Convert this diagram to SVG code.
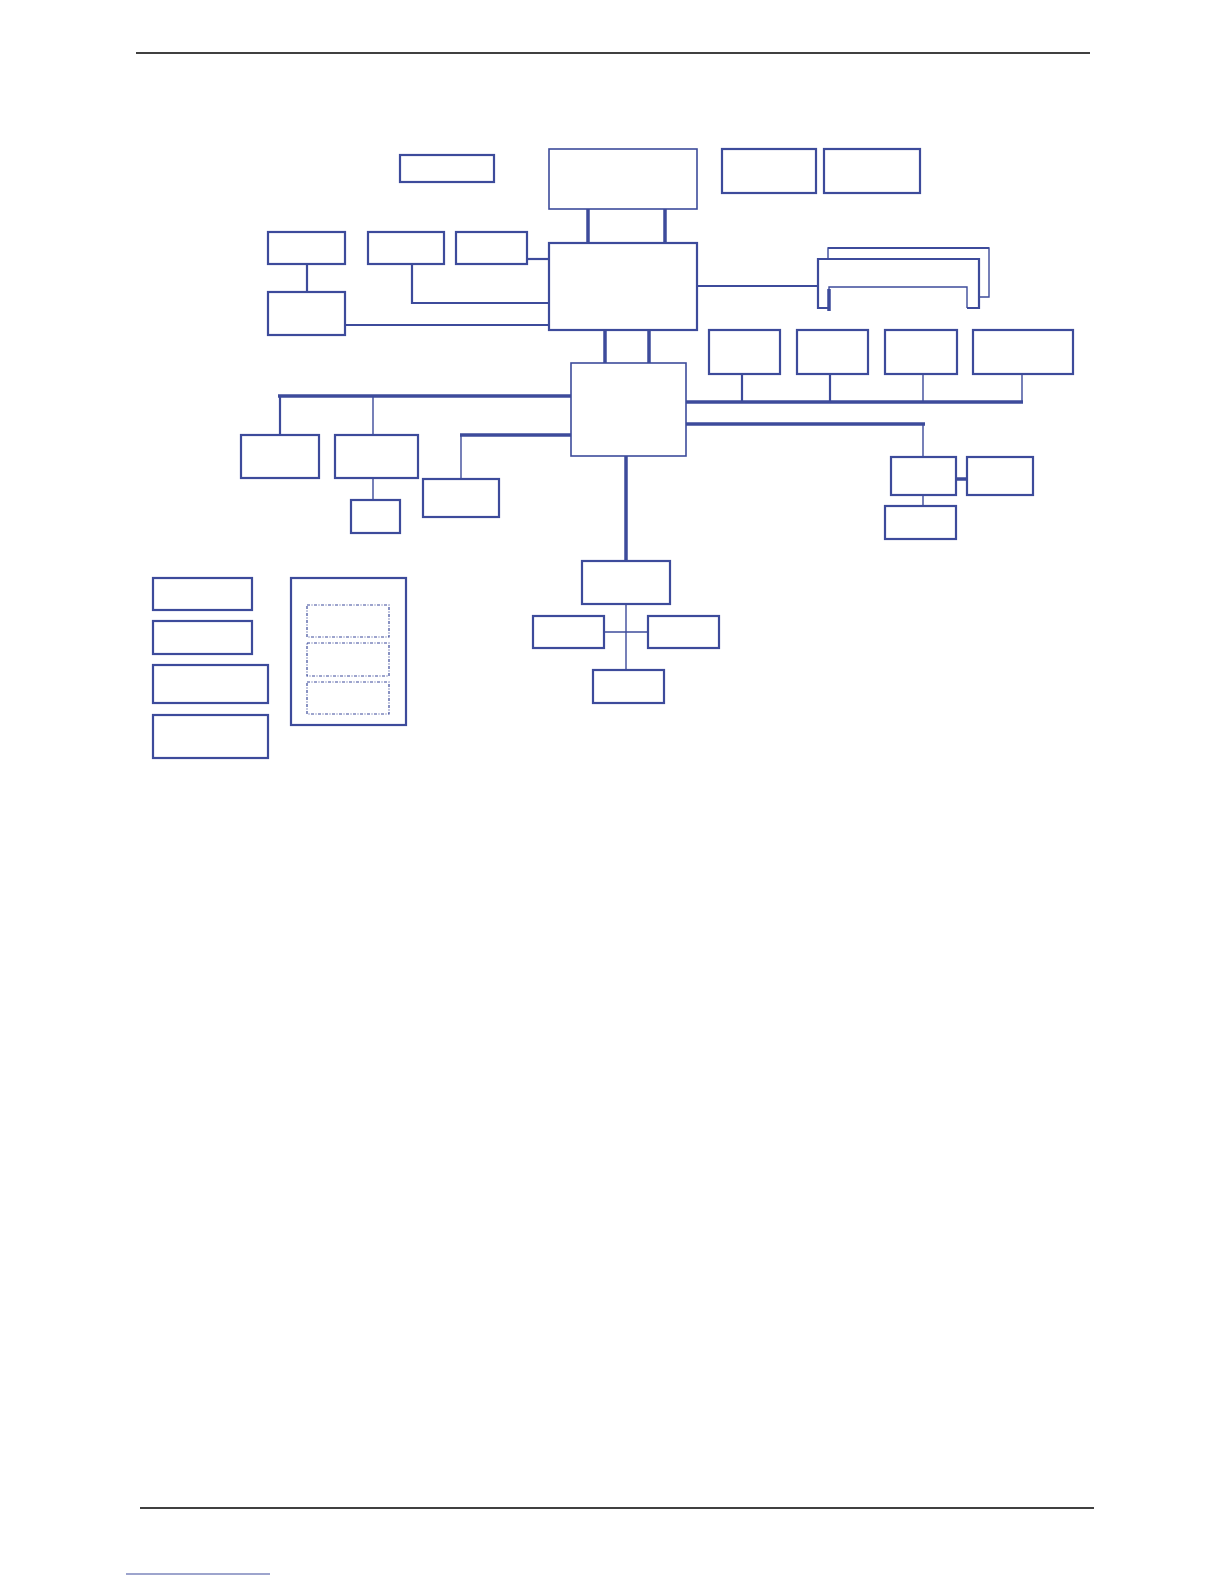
<svg xmlns="http://www.w3.org/2000/svg" width="1224" height="1584" viewBox="0 0 1224 1584">
<style>
.b{fill:#fff;stroke:#3d4b9b;stroke-width:2.2}
.t{fill:#fff;stroke:#3d4b9b;stroke-width:1.6}
.d{fill:none;stroke:#3d4b9b;stroke-width:1.2;stroke-dasharray:3 1.5 1 1.5}
.w{fill:none;stroke:#3d4b9b;stroke-width:3.5}
.m{fill:none;stroke:#3d4b9b;stroke-width:2.2}
.n{fill:none;stroke:#3d4b9b;stroke-width:1.4}
.r{stroke:#000;stroke-width:1.5}
</style>
<rect width="1224" height="1584" fill="#fff"/>
<line class="r" x1="136" y1="53" x2="1090" y2="53"/>
<line class="r" x1="140" y1="1508" x2="1094" y2="1508"/>
<line x1="126" y1="1574" x2="270" y2="1574" stroke="#3d4b9b" stroke-width="1.2"/>
<g id="connectors">
<line class="w" x1="588" y1="209" x2="588" y2="243"/>
<line class="w" x1="665" y1="209" x2="665" y2="243"/>
<line class="m" x1="307" y1="264" x2="307" y2="292"/>
<polyline class="m" points="412,264 412,303 549,303"/>
<line class="m" x1="527" y1="259" x2="549" y2="259"/>
<line class="m" x1="345" y1="325" x2="549" y2="325"/>
<line class="m" x1="697" y1="286" x2="818" y2="286"/>
<line class="w" x1="605" y1="330" x2="605" y2="363"/>
<line class="w" x1="649" y1="330" x2="649" y2="363"/>
<line class="w" x1="278" y1="396" x2="573" y2="396"/>
<line class="m" x1="280" y1="396" x2="280" y2="435"/>
<line class="n" x1="373" y1="396" x2="373" y2="435"/>
<line class="n" x1="373" y1="478" x2="373" y2="500"/>
<line class="w" x1="460" y1="435" x2="573" y2="435"/>
<line class="n" x1="461" y1="435" x2="461" y2="479"/>
<line class="w" x1="686" y1="402" x2="1023" y2="402"/>
<line class="m" x1="742" y1="374" x2="742" y2="402"/>
<line class="m" x1="830" y1="374" x2="830" y2="402"/>
<line class="n" x1="923" y1="374" x2="923" y2="402"/>
<line class="n" x1="1022" y1="374" x2="1022" y2="402"/>
<line class="w" x1="686" y1="424" x2="925" y2="424"/>
<line class="n" x1="923" y1="424" x2="923" y2="457"/>
<line class="w" x1="956" y1="479" x2="967" y2="479"/>
<line class="n" x1="923" y1="495" x2="923" y2="506"/>
<line class="w" x1="626" y1="456" x2="626" y2="561"/>
<line class="n" x1="626" y1="604" x2="626" y2="670"/>
<line class="n" x1="604" y1="632" x2="648" y2="632"/>
</g>
<g id="memory-slots">
<path class="n" d="M828,259 V248 H989 V297 H979"/>
<path class="m" d="M828,248 H989"/>
<path class="m" d="M828,308 H818 V259 H979 V308 H967"/>
<path class="n" d="M829,310 V287 H967 V308"/>
<path class="w" d="M829,311 V289"/>
</g>
<g id="node-a"><rect class="b" x="400" y="155" width="94" height="27"/></g>
<g id="node-cpu"><rect class="t" x="549" y="149" width="148" height="60"/></g>
<g id="node-e"><rect class="b" x="722" y="149" width="94" height="44"/></g>
<g id="node-f"><rect class="b" x="824" y="149" width="96" height="44"/></g>
<g id="node-nb"><rect class="b" x="549" y="243" width="148" height="87"/></g>
<g id="node-b1"><rect class="b" x="268" y="232" width="77" height="32"/></g>
<g id="node-b2"><rect class="b" x="368" y="232" width="76" height="32"/></g>
<g id="node-c"><rect class="b" x="456" y="232" width="71" height="32"/></g>
<g id="node-d"><rect class="b" x="268" y="292" width="77" height="43"/></g>
<g id="node-sb"><rect class="t" x="571" y="363" width="115" height="93"/></g>
<g id="node-i1"><rect class="b" x="709" y="330" width="71" height="44"/></g>
<g id="node-i2"><rect class="b" x="797" y="330" width="71" height="44"/></g>
<g id="node-i3"><rect class="b" x="885" y="330" width="72" height="44"/></g>
<g id="node-i4"><rect class="b" x="973" y="330" width="100" height="44"/></g>
<g id="node-g1"><rect class="b" x="241" y="435" width="78" height="43"/></g>
<g id="node-g2"><rect class="b" x="335" y="435" width="83" height="43"/></g>
<g id="node-g3"><rect class="b" x="351" y="500" width="49" height="33"/></g>
<g id="node-h"><rect class="b" x="423" y="479" width="76" height="38"/></g>
<g id="node-j1"><rect class="b" x="891" y="457" width="65" height="38"/></g>
<g id="node-j2"><rect class="b" x="967" y="457" width="66" height="38"/></g>
<g id="node-j3"><rect class="b" x="885" y="506" width="71" height="33"/></g>
<g id="node-m"><rect class="b" x="582" y="561" width="88" height="43"/></g>
<g id="node-n1"><rect class="b" x="533" y="616" width="71" height="32"/></g>
<g id="node-n2"><rect class="b" x="648" y="616" width="71" height="32"/></g>
<g id="node-n3"><rect class="b" x="593" y="670" width="71" height="33"/></g>
<g id="node-k1"><rect class="b" x="153" y="578" width="99" height="32"/></g>
<g id="node-k2"><rect class="b" x="153" y="621" width="99" height="33"/></g>
<g id="node-k3"><rect class="b" x="153" y="665" width="115" height="38"/></g>
<g id="node-k4"><rect class="b" x="153" y="715" width="115" height="43"/></g>
<g id="node-l">
<rect class="b" x="291" y="578" width="115" height="147"/>
<rect class="d" x="307" y="605" width="82" height="32"/>
<rect class="d" x="307" y="643" width="82" height="33"/>
<rect class="d" x="307" y="682" width="82" height="32"/>
</g>
</svg>
